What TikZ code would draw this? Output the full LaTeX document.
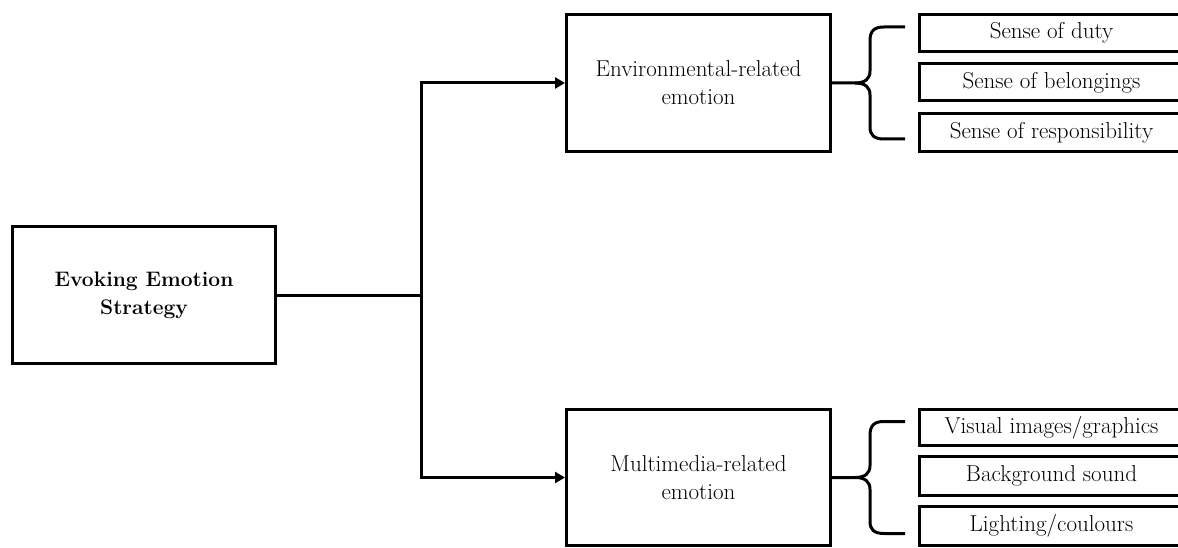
\documentclass[tikz,border=0pt]{standalone}
\usetikzlibrary{arrows.meta,calc}
\begin{document}
\begin{tikzpicture}[x=1pt,y=-1pt,
  box/.style={draw,line width=3pt,inner sep=0pt,align=center,
    font=\fontsize{23}{28}\selectfont},
  item/.style={draw,line width=3pt,inner sep=0pt,minimum width=264pt,
    font=\fontsize{23}{26}\selectfont},
  link/.style={line width=3pt},
  arr/.style={link,-{Triangle[length=10pt,width=11pt]}},
  curly/.pic={
    \draw[link] (73,-56) -- (52,-56) .. controls (42,-56) and (38,-52) .. (38,-42)
      -- (38,-12) .. controls (38,-4) and (33,0) .. (23,0) -- (0,0);
    \draw[link] (23,0) .. controls (33,0) and (38,4) .. (38,12)
      -- (38,44) .. controls (38,52) and (42,56) .. (52,56) -- (73,56);
  }]
\clip (0,0) rectangle (1178,548);

% root of the tree
\node[box,minimum width=263pt,minimum height=137pt,font=\fontsize{21}{28}\selectfont\bfseries]
  (root) at (144,295) {Evoking Emotion\\Strategy};

% the two kinds of emotion
\node[box,minimum width=264pt,minimum height=137pt] (env) at (698.5,83)
  {Environmental-related\\emotion};
\node[box,minimum width=264pt,minimum height=136pt] (multi) at (698.5,477.5)
  {Multimedia-related\\emotion};

% items of each kind
\node[item,minimum height=37pt] (e1) at (1051.5,33)    {Sense of duty};
\node[item,minimum height=37pt] (e2) at (1051.5,82.5)  {Sense of belongings};
\node[item,minimum height=38pt] (e3) at (1051.5,132.5) {Sense of responsibility};

\node[item,minimum height=36pt] (m1) at (1051.5,427.5) {Visual images/graphics};
\node[item,minimum height=39pt] (m2) at (1051.5,476)   {Background sound};
\node[item,minimum height=39pt] (m3) at (1051.5,526)   {Lighting/coulours};

% connectors
\coordinate (split) at (421,295);
\draw[link] (root) -- (split);
\draw[arr] (split) |- (env);
\draw[arr] (split) |- (multi);

% braces grouping the items
\pic at (env.east) {curly};
\pic at (multi.east) {curly};
\end{tikzpicture}
\end{document}
